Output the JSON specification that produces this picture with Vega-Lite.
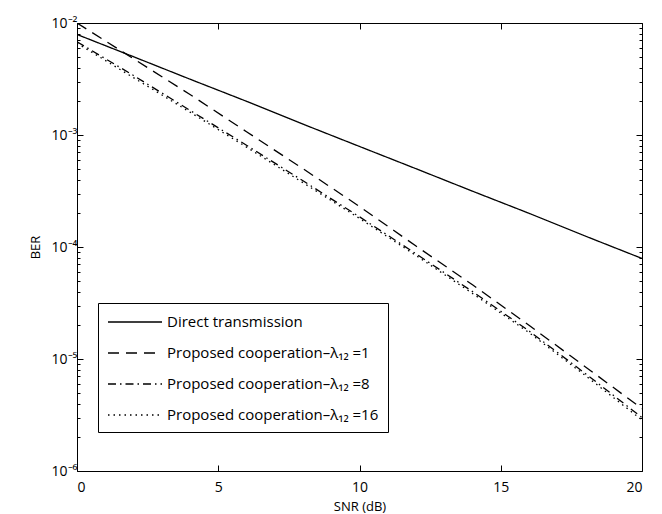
{
  "$schema": "https://vega.github.io/schema/vega-lite/v6.json",
  "autosize": "none",
  "width": 565,
  "height": 448,
  "padding": {"left": 77, "top": 23, "right": 20, "bottom": 43},
  "background": "white",
  "config": {
    "view": {"stroke": "black", "strokeWidth": 1},
    "font": "Open Sans",
    "axis": {"domain": false, "grid": false, "tickColor": "black", "labelColor": "black", "titleColor": "black", "labelFont": "Open Sans", "titleFont": "Open Sans", "labelFontSize": 14, "titleFontSize": 13, "titleFontWeight": "normal", "tickWidth": 1}
  },
  "data": {
    "values": [
      {"series": "Direct transmission", "snr": 0, "ber": 0.0079},
      {"series": "Direct transmission", "snr": 2, "ber": 0.0050},
      {"series": "Direct transmission", "snr": 4, "ber": 0.00315},
      {"series": "Direct transmission", "snr": 6, "ber": 0.0020},
      {"series": "Direct transmission", "snr": 8, "ber": 0.00125},
      {"series": "Direct transmission", "snr": 10, "ber": 0.00079},
      {"series": "Direct transmission", "snr": 12, "ber": 0.00050},
      {"series": "Direct transmission", "snr": 14, "ber": 0.000315},
      {"series": "Direct transmission", "snr": 16, "ber": 0.00020},
      {"series": "Direct transmission", "snr": 18, "ber": 0.000125},
      {"series": "Direct transmission", "snr": 20, "ber": 0.000079},
      {"series": "Proposed cooperation–λ₁₂ =1", "snr": 0, "ber": 0.0100},
      {"series": "Proposed cooperation–λ₁₂ =1", "snr": 2, "ber": 0.0048},
      {"series": "Proposed cooperation–λ₁₂ =1", "snr": 4, "ber": 0.0023},
      {"series": "Proposed cooperation–λ₁₂ =1", "snr": 6, "ber": 0.00107},
      {"series": "Proposed cooperation–λ₁₂ =1", "snr": 8, "ber": 0.00050},
      {"series": "Proposed cooperation–λ₁₂ =1", "snr": 10, "ber": 0.00023},
      {"series": "Proposed cooperation–λ₁₂ =1", "snr": 12, "ber": 0.000102},
      {"series": "Proposed cooperation–λ₁₂ =1", "snr": 14, "ber": 0.000046},
      {"series": "Proposed cooperation–λ₁₂ =1", "snr": 16, "ber": 0.000020},
      {"series": "Proposed cooperation–λ₁₂ =1", "snr": 18, "ber": 0.0000085},
      {"series": "Proposed cooperation–λ₁₂ =1", "snr": 20, "ber": 0.0000036},
      {"series": "Proposed cooperation–λ₁₂ =8", "snr": 0, "ber": 0.0068},
      {"series": "Proposed cooperation–λ₁₂ =8", "snr": 2, "ber": 0.0034},
      {"series": "Proposed cooperation–λ₁₂ =8", "snr": 4, "ber": 0.00166},
      {"series": "Proposed cooperation–λ₁₂ =8", "snr": 6, "ber": 0.00081},
      {"series": "Proposed cooperation–λ₁₂ =8", "snr": 8, "ber": 0.00039},
      {"series": "Proposed cooperation–λ₁₂ =8", "snr": 10, "ber": 0.000186},
      {"series": "Proposed cooperation–λ₁₂ =8", "snr": 12, "ber": 0.000087},
      {"series": "Proposed cooperation–λ₁₂ =8", "snr": 14, "ber": 0.000040},
      {"series": "Proposed cooperation–λ₁₂ =8", "snr": 16, "ber": 0.0000178},
      {"series": "Proposed cooperation–λ₁₂ =8", "snr": 18, "ber": 0.0000074},
      {"series": "Proposed cooperation–λ₁₂ =8", "snr": 20, "ber": 0.0000030},
      {"series": "Proposed cooperation–λ₁₂ =16", "snr": 0, "ber": 0.0066},
      {"series": "Proposed cooperation–λ₁₂ =16", "snr": 2, "ber": 0.00325},
      {"series": "Proposed cooperation–λ₁₂ =16", "snr": 4, "ber": 0.0016},
      {"series": "Proposed cooperation–λ₁₂ =16", "snr": 6, "ber": 0.00078},
      {"series": "Proposed cooperation–λ₁₂ =16", "snr": 8, "ber": 0.000375},
      {"series": "Proposed cooperation–λ₁₂ =16", "snr": 10, "ber": 0.00018},
      {"series": "Proposed cooperation–λ₁₂ =16", "snr": 12, "ber": 0.000084},
      {"series": "Proposed cooperation–λ₁₂ =16", "snr": 14, "ber": 0.0000385},
      {"series": "Proposed cooperation–λ₁₂ =16", "snr": 16, "ber": 0.0000172},
      {"series": "Proposed cooperation–λ₁₂ =16", "snr": 18, "ber": 0.0000071},
      {"series": "Proposed cooperation–λ₁₂ =16", "snr": 20, "ber": 0.00000285}
    ]
  },
  "layer": [
    {
      "mark": {"type": "line", "color": "black", "strokeWidth": 1.3, "clip": true},
      "encoding": {
        "x": {"field": "snr", "type": "quantitative", "scale": {"domain": [0, 20], "nice": false},
              "axis": {"orient": "bottom", "values": [0, 5, 10, 15, 20], "tickSize": -6, "labelPadding": 15, "title": "SNR (dB)", "titlePadding": 6}},
        "y": {"field": "ber", "type": "quantitative", "scale": {"type": "log", "domain": [0.000001, 0.01], "nice": false},
              "axis": {"orient": "left", "values": [0.000001, 0.00001, 0.0001, 0.001, 0.01], "tickSize": -6, "labelPadding": 6,
                       "labelExpr": "['10⁻⁶','10⁻⁵','10⁻⁴','10⁻³','10⁻²'][round(log(datum.value)/LN10)+6]",
                       "title": "BER", "titlePadding": 9}},
        "strokeDash": {"field": "series", "type": "nominal",
          "scale": {"domain": ["Direct transmission", "Proposed cooperation–λ₁₂ =1", "Proposed cooperation–λ₁₂ =8", "Proposed cooperation–λ₁₂ =16"],
                    "range": [[1, 0], [11, 7], [8, 4, 1.5, 4], [1.5, 4]]},
          "legend": {"orient": "none", "legendX": 21, "legendY": 280, "title": null, "strokeColor": "black", "fillColor": "white",
                     "padding": 9, "symbolType": "M-1,0H5", "symbolSize": 324, "symbolStrokeWidth": 1.3, "symbolStrokeColor": "black",
                     "labelFont": "Open Sans", "labelFontSize": 15, "labelColor": "black", "labelLimit": 340, "rowPadding": 13, "labelOffset": 40}}
      }
    },
    {
      "mark": {"type": "point", "opacity": 0},
      "encoding": {
        "x": {"field": "snr", "type": "quantitative", "scale": {"domain": [0, 20], "nice": false},
              "axis": {"orient": "top", "values": [0, 5, 10, 15, 20], "tickSize": -6, "labels": false, "title": null}},
        "y": {"field": "ber", "type": "quantitative", "scale": {"type": "log", "domain": [0.000001, 0.01], "nice": false},
              "axis": {"orient": "right", "values": [0.000001, 0.00001, 0.0001, 0.001, 0.01], "tickSize": -6, "labels": false, "title": null}}
      }
    },
    {
      "mark": {"type": "point", "opacity": 0},
      "encoding": {
        "x": {"field": "snr", "type": "quantitative", "scale": {"domain": [0, 20], "nice": false}, "axis": null},
        "y": {"field": "ber", "type": "quantitative", "scale": {"type": "log", "domain": [0.000001, 0.01], "nice": false},
              "axis": {"orient": "left", "values": [0.000002, 0.000003, 0.000004, 0.000005, 0.000006, 0.000007, 0.000008, 0.000009, 0.00002, 0.00003, 0.00004, 0.00005, 0.00006, 0.00007, 0.00008, 0.00009, 0.0002, 0.0003, 0.0004, 0.0005, 0.0006, 0.0007, 0.0008, 0.0009, 0.002, 0.003, 0.004, 0.005, 0.006, 0.007, 0.008, 0.009], "tickSize": -3, "labels": false, "title": null}}
      }
    },
    {
      "mark": {"type": "point", "opacity": 0},
      "encoding": {
        "x": {"field": "snr", "type": "quantitative", "scale": {"domain": [0, 20], "nice": false}, "axis": null},
        "y": {"field": "ber", "type": "quantitative", "scale": {"type": "log", "domain": [0.000001, 0.01], "nice": false},
              "axis": {"orient": "right", "values": [0.000002, 0.000003, 0.000004, 0.000005, 0.000006, 0.000007, 0.000008, 0.000009, 0.00002, 0.00003, 0.00004, 0.00005, 0.00006, 0.00007, 0.00008, 0.00009, 0.0002, 0.0003, 0.0004, 0.0005, 0.0006, 0.0007, 0.0008, 0.0009, 0.002, 0.003, 0.004, 0.005, 0.006, 0.007, 0.008, 0.009], "tickSize": -3, "labels": false, "title": null}}
      }
    }
  ],
  "resolve": {"axis": {"x": "independent", "y": "independent"}, "scale": {"x": "shared", "y": "shared"}}
}
